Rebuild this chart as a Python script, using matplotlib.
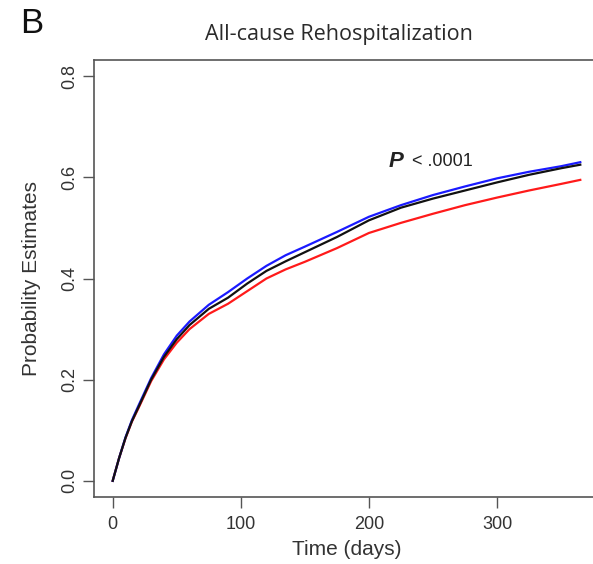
import numpy as np
import matplotlib.pyplot as plt

# days and cumulative probability estimates
days = [0, 5, 10, 15, 20, 30, 40, 50, 60, 75, 90, 105, 120, 135, 150,
        175, 200, 225, 250, 275, 300, 325, 350, 365]
black = [0, 0.045, 0.085, 0.118, 0.145, 0.200, 0.245, 0.280, 0.308, 0.340,
         0.362, 0.390, 0.415, 0.434, 0.452, 0.482, 0.515, 0.540, 0.558,
         0.574, 0.590, 0.605, 0.618, 0.625]
blue = [0, 0.045, 0.086, 0.120, 0.148, 0.203, 0.250, 0.287, 0.315, 0.348,
        0.373, 0.400, 0.425, 0.446, 0.463, 0.492, 0.522, 0.545, 0.565,
        0.582, 0.598, 0.611, 0.622, 0.630]
red = [0, 0.045, 0.084, 0.117, 0.143, 0.197, 0.240, 0.273, 0.300, 0.330,
       0.350, 0.375, 0.400, 0.418, 0.433, 0.460, 0.490, 0.510, 0.528,
       0.545, 0.560, 0.574, 0.587, 0.595]

xticks = [0, 100, 200, 300]
yticks = [0.0, 0.2, 0.4, 0.6, 0.8]

fig = plt.figure(figsize=(5.93, 5.64), dpi=100)
ax = fig.add_axes([0.1585, 0.1188, 0.8516, 0.7748])

ax.plot(days, red, color="#ff1a1a", lw=1.6)
ax.plot(days, blue, color="#1a1aff", lw=1.6)
ax.plot(days, black, color="#111111", lw=1.6)

ax.set_xlim(-14.6, 379.6)
ax.set_ylim(-0.032, 0.832)
ax.set_xticks(xticks)
ax.set_xticklabels([str(t) for t in xticks], fontfamily="Liberation Sans",
                   fontsize=13, color="#333333")
ax.set_yticks(yticks)
ax.set_yticklabels([f"{t:.1f}" for t in yticks], rotation=90, va="center",
                   fontfamily="Liberation Sans", fontsize=13, color="#333333")
ax.tick_params(length=8, width=1, color="#555555")
ax.tick_params(axis="x", pad=6)
ax.tick_params(axis="y", pad=3)
for s in ax.spines.values():
    s.set_color("#555555")
    s.set_linewidth(1.2)

ax.set_xlabel("Time (days)", fontfamily="Liberation Sans", fontsize=15,
              color="#333333", labelpad=5)
ax.set_ylabel("Probability Estimates", fontfamily="Liberation Sans",
              fontsize=15, color="#333333", labelpad=15)

fig.text(0.572, 0.938, "All-cause Rehospitalization", ha="center",
         va="center", fontfamily="Open Sans", fontsize=15.5, color="#2a2a2a")
fig.text(0.034, 0.958, "B", ha="left", va="center",
         fontfamily="Liberation Sans", fontsize=25, color="#111111")

ax.text(215, 0.631, "P", fontfamily="Liberation Sans", fontstyle="italic",
        fontweight="bold", fontsize=16, color="#222222", va="center")
ax.text(234, 0.631, "< .0001", fontfamily="Liberation Sans", fontsize=13,
        color="#222222", va="center")

fig.savefig("out.png", dpi=100)
